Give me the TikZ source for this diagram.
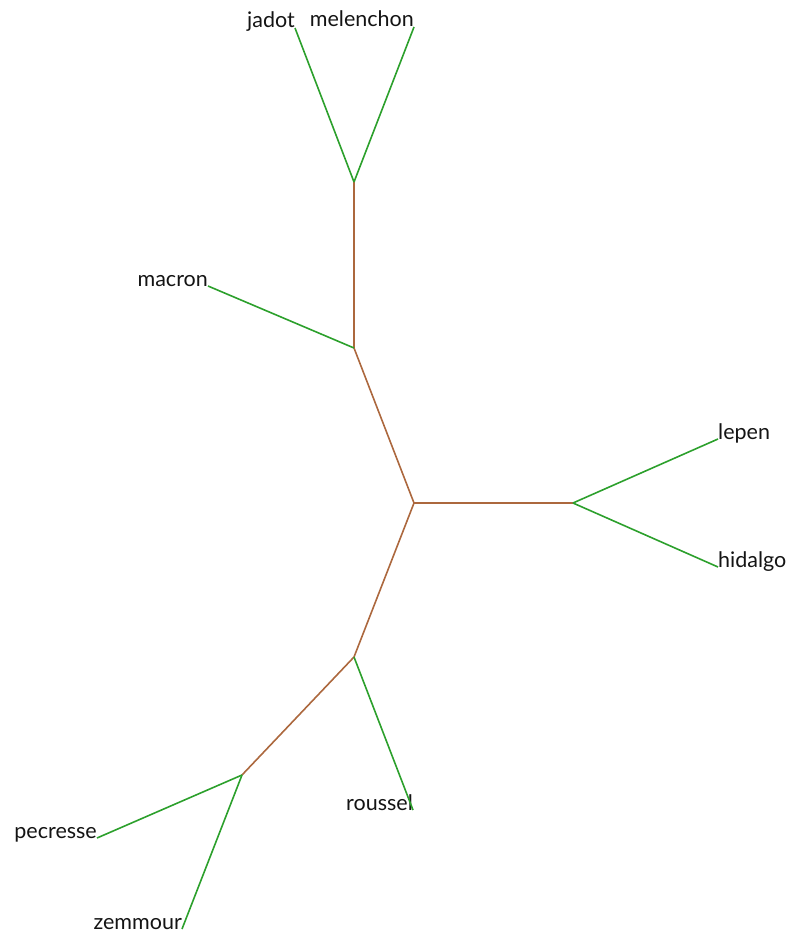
\documentclass[tikz,border=0pt]{standalone}
\usepackage{fontspec}
\setmainfont{Lato}
\definecolor{leafgreen}{RGB}{44,160,44}
\definecolor{innerbrown}{RGB}{172,104,62}
\definecolor{labelgray}{RGB}{20,20,20}
\begin{document}
\begin{tikzpicture}[x=1pt,y=-1pt,
  inner/.style={draw=innerbrown,line width=1.6pt},
  leaf/.style={draw=leafgreen,line width=1.6pt},
  lblL/.style={anchor=base east,inner sep=0pt,font=\fontsize{21.5}{24}\selectfont,text=labelgray},
  lblR/.style={anchor=base west,inner sep=0pt,font=\fontsize{21.5}{24}\selectfont,text=labelgray}]
\useasboundingbox (0,0) rectangle (795,934);
% internal nodes
\coordinate (C) at (414,503);
\coordinate (U1) at (354,348);
\coordinate (U2) at (354,182);
\coordinate (R) at (573,503);
\coordinate (L1) at (354,657);
\coordinate (L2) at (242,775);
% leaves
\coordinate (jadot) at (295,28);
\coordinate (melenchon) at (414,27);
\coordinate (macron) at (208,286);
\coordinate (lepen) at (718,439);
\coordinate (hidalgo) at (718,567);
\coordinate (roussel) at (413,810);
\coordinate (pecresse) at (97,838);
\coordinate (zemmour) at (182,929);
% labels
\node[lblL] (tjadot) at (jadot) {jadot};
\node[lblL] (tmelenchon) at (melenchon) {melenchon};
\node[lblL] (tmacron) at (macron) {macron};
\node[lblR] (tlepen) at (lepen) {lepen};
\node[lblR] (thidalgo) at (hidalgo) {hidalgo};
\node[lblL] (troussel) at (roussel) {roussel};
\node[lblL] (tpecresse) at (pecresse) {pecresse};
\node[lblL] (tzemmour) at (zemmour) {zemmour};
% edges
\draw[inner] (C) -- (U1);
\draw[inner] (U1) -- (U2);
\draw[inner] (C) -- (R);
\draw[inner] (C) -- (L1);
\draw[inner] (L1) -- (L2);
\draw[leaf] (U2) -- (jadot);
\draw[leaf] (U2) -- (melenchon);
\draw[leaf] (U1) -- (macron);
\draw[leaf] (R) -- (lepen);
\draw[leaf] (R) -- (hidalgo);
\draw[leaf] (L1) -- (roussel);
\draw[leaf] (L2) -- (pecresse);
\draw[leaf] (L2) -- (zemmour);
\end{tikzpicture}
\end{document}
